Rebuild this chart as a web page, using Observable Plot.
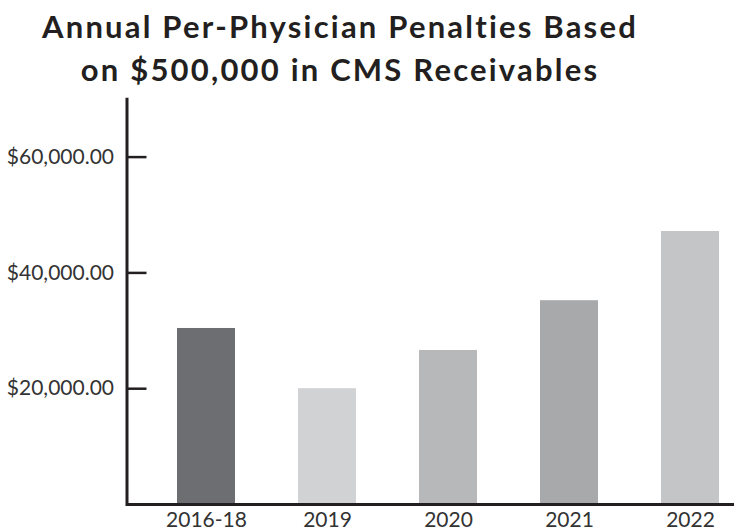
<!DOCTYPE html>
<html>
<head>
<meta charset="utf-8">
<script src="https://cdn.jsdelivr.net/npm/d3@7"></script>
<script src="https://cdn.jsdelivr.net/npm/@observablehq/plot@0.6"></script>
<style>
  html, body { margin: 0; padding: 0; background: #fff; }
  #title { width: 680px; height: 90px; text-align: center; font-family: Lato, "DejaVu Sans", sans-serif; font-weight: bold; font-size: 31px; letter-spacing: 2.2px; line-height: 43px; color: #231f20; padding-top: 5px; box-sizing: border-box; }
</style>
</head>
<body>
<div id="title">Annual Per-Physician Penalties Based<br>on $500,000 in CMS Receivables</div>
<div id="chart"></div>
<script>
const periods = ["2016-18", "2019", "2020", "2021", "2022"];
const penalties = [30400, 20000, 26600, 35200, 47150];
const barColors = ["#6d6e71", "#d1d2d4", "#b7b8ba", "#a7a9ab", "#c4c5c7"];
const yTicks = [20000, 40000, 60000];

const data = periods.map((p, i) => ({period: p, value: penalties[i], color: barColors[i]}));
const fmt = d3.format("$,.2f");

const W = 734, H = 441, ML = 126.5, MR = 0;
const chart = Plot.plot({
  width: W,
  height: H,
  marginLeft: ML,
  marginRight: MR,
  marginTop: 8.7,
  marginBottom: 27,
  style: {fontFamily: "Lato, 'DejaVu Sans', sans-serif", background: "#fff"},
  x: {domain: periods, range: [145.5, 751.5], paddingInner: 0.52, paddingOuter: 0.26, label: null},
  y: {domain: [0, 70000], label: null},
  marks: [
    Plot.barY(data, {x: "period", y: "value", fill: "color"}),
    Plot.ruleY(yTicks, {stroke: "#231f20", strokeWidth: 2.5, insetRight: W - ML - MR - 20}),
    Plot.frame({anchor: "left", stroke: "#231f20", strokeWidth: 3}),
    Plot.ruleY([0], {stroke: "#231f20", strokeWidth: 3}),
    Plot.axisY({ticks: yTicks, tickSize: 0, tickPadding: 13, tickFormat: fmt, fontSize: 21, fill: "#333", label: null}),
    Plot.axisX({tickSize: 0, tickPadding: 8, fontSize: 21, fill: "#333", label: null})
  ]
});
document.getElementById("chart").appendChild(chart);
</script>
</body>
</html>
